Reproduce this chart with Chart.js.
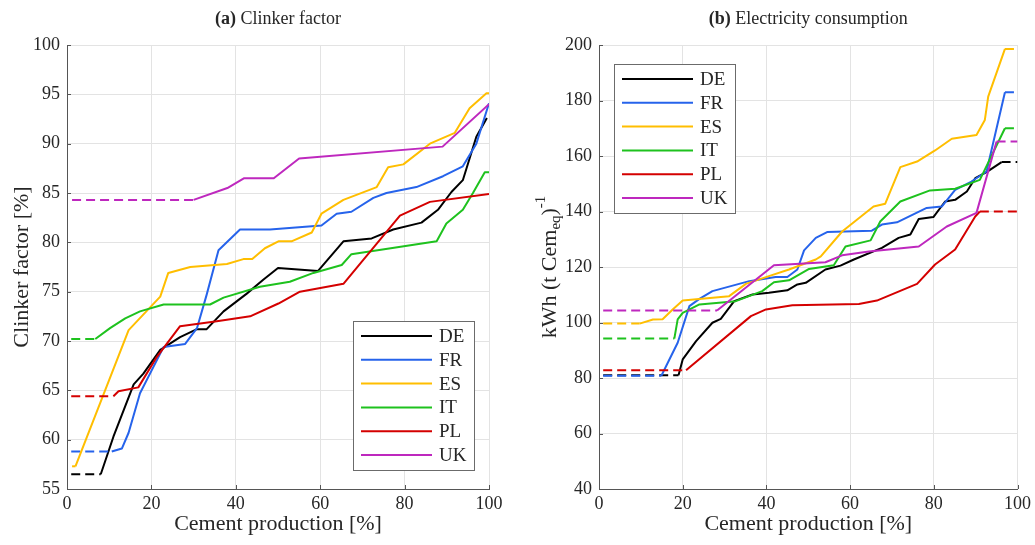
<!DOCTYPE html>
<html lang="en">
<head>
  <meta charset="UTF-8" />
  <title>Clinker factor and electricity consumption</title>
  <script src="https://cdn.jsdelivr.net/npm/chart.js"></script>
  <style>
    body { margin: 0; background: #fff; }
    .wrap { position: relative; width: 1035px; height: 545px; }
    .panel { position: absolute; top: 0; height: 545px; }
    #left { left: 0; width: 517px; }
    #right { left: 517px; width: 518px; }
  </style>
</head>
<body>
  <div class="wrap">
    <div class="panel" id="left"><canvas id="clinkerChart"></canvas></div>
    <div class="panel" id="right"><canvas id="elecChart"></canvas></div>
  </div>

  <script>
    const countries = ["DE", "FR", "ES", "IT", "PL", "UK"];
    const colors = ["#000000", "#2663eb", "#ffbe00", "#1ec21e", "#d40000", "#be28be"];

    // (a) clinker factor [%] against cumulative cement production [%]
    const clinkerDE = [[1,56.5],[8,56.5],[11,60.3],[15.8,65.6],[18.1,66.7],[22.1,69.1],[26.8,70.4],[30.8,71.2],[33.1,71.2],[37.1,73],[42.6,74.8],[46.5,76.2],[50,77.4],[59.5,77.1],[65.5,80.1],[72.2,80.4],[77.3,81.3],[84,82],[87.9,83.3],[91.1,85.1],[93.8,86.3],[97,90.7],[99.5,92.6]];
    const clinkerFR = [[1,58.8],[10.6,58.8],[13,59.1],[14.6,60.7],[17.3,64.7],[22.9,69.4],[28,69.7],[30.8,71.3],[33.1,74.7],[35.9,79.2],[41,81.3],[48.1,81.3],[60.3,81.7],[63.9,82.9],[67.4,83.1],[72.6,84.5],[75.7,85],[82.8,85.6],[89.1,86.7],[93.8,87.7],[97,90],[100,94.1]];
    const clinkerES = [[1.2,57.3],[2,57.3],[14.6,71.1],[22.1,74.5],[24,76.9],[29.2,77.5],[37.9,77.8],[41.8,78.3],[43.9,78.3],[46.9,79.4],[50.1,80.1],[53.2,80.1],[58,81],[60.3,82.9],[65.5,84.3],[73.4,85.6],[76.1,87.6],[79.7,87.9],[86,90],[91.9,91.1],[95.4,93.6],[99.4,95.1],[100,95.1]];
    const clinkerIT = [[1,70.2],[6.7,70.2],[10.2,71.3],[13.8,72.3],[17.3,73],[22.9,73.7],[33.9,73.7],[37.1,74.4],[45.7,75.5],[52.8,76],[58.4,76.9],[65.1,77.7],[67.4,78.8],[87.6,80.1],[89.9,81.9],[93.8,83.3],[96.2,85],[99,87.1],[100,87.1]];
    const clinkerPL = [[1,64.4],[11,64.4],[12.2,64.9],[16.9,65.3],[21.3,68.4],[26.8,71.5],[35.5,72],[43.4,72.5],[50.1,73.8],[55.2,75],[65.5,75.8],[78.9,82.7],[86,84.1],[100,84.9]];
    const clinkerUK = [[1.2,84.3],[30,84.3],[38,85.5],[42,86.5],[49,86.5],[55,88.5],[89,89.7],[100,94]];
    // which ends of each curve are drawn dashed (flat extrapolation)
    const clinkerDash = ["start", "start", "start", "start", "start", "start"];

    // (b) electricity consumption [kWh per t cement eq]
    const elecDE = [[1,81],[19,81],[20,86.7],[23.2,93.3],[27.1,99.9],[29.1,101.3],[32.3,107.7],[36.7,110.1],[40.6,110.7],[45,111.6],[47.4,113.7],[49.4,114.3],[54.1,119.1],[57.7,120.5],[60.9,122.7],[67.6,126.9],[71.6,130.5],[74.4,131.7],[76.4,137.3],[79.9,138],[82.7,143.6],[85.1,144.2],[87.9,147.2],[89.9,152],[92.6,154.2],[96.2,157.8],[100,157.8]];
    const elecFR = [[1,80.8],[14.9,80.8],[18.8,92.7],[21.6,105.9],[24,108.5],[27.1,111.3],[35.9,114.9],[42.2,116.4],[45,116.4],[47.4,119.1],[49,126],[51.8,130.5],[54.5,132.6],[65.2,133.1],[67.6,135.3],[71.2,136.1],[78.3,141.3],[81.9,141.8],[85.1,147.8],[89,150.8],[92.6,154.4],[97,183],[100,183]];
    const elecES = [[1,99.6],[9.7,99.6],[12.9,101.1],[15.2,101.2],[17.6,104.7],[20,107.9],[31.1,109.5],[35.1,113.9],[40.6,116.7],[45.4,119.1],[51.8,122.7],[53,123.8],[58.1,132.8],[65.6,141.8],[68.4,142.8],[72,156],[76,158],[80.3,162],[84.3,166.2],[90.2,167.6],[92.2,173],[93,181.4],[97,198.6],[100,198.6]];
    const elecIT = [[1,94.2],[18,94.2],[18.8,101.1],[20,103.5],[24,106.5],[32.7,107.7],[39,111.3],[41.8,114.5],[45.4,115.2],[50.2,119.3],[56.1,120.6],[58.9,127.4],[64.9,129.6],[67.2,136.4],[72,143.6],[79.1,147.6],[85.1,148.2],[91,151.4],[97,170],[100,170]];
    const elecPL = [[1,82.8],[20.8,82.8],[36.3,102.3],[39.9,104.7],[46.2,106.2],[62.1,106.7],[66.4,107.9],[76,113.9],[80.3,120.9],[85.1,126.3],[89.9,138.2],[91,140],[100,140]];
    const elecUK = [[1,104.3],[28.2,104.3],[41.8,120.6],[54.1,121.7],[58.1,124.2],[64.5,125.6],[76.4,127.4],[83.1,134.6],[90.2,139.5],[95,165.2],[100,165.2]];
    const elecDash = ["both", "both", "both", "both", "both", "both"];

    const serif = "'Liberation Serif', 'Times New Roman', serif";
    const textColor = "#262626";
    const axisColor = "#555";

    // titles, y-axis label, inward ticks and the boxed legend
    const decor = {
      id: "decor",
      afterDraw(chart, args, opts) {
        const ctx = chart.ctx;
        const a = chart.chartArea;
        ctx.save();

        // MATLAB style ticks pointing into the plot
        ctx.strokeStyle = axisColor;
        ctx.lineWidth = 1;
        const xs = chart.scales.x, ys = chart.scales.y;
        xs.ticks.forEach((t, i) => {
          const px = Math.round(xs.getPixelForTick(i)) + 0.5;
          ctx.beginPath(); ctx.moveTo(px, a.bottom); ctx.lineTo(px, a.bottom - 4); ctx.stroke();
        });
        ys.ticks.forEach((t, i) => {
          const py = Math.round(ys.getPixelForTick(i)) + 0.5;
          ctx.beginPath(); ctx.moveTo(a.left, py); ctx.lineTo(a.left + 4, py); ctx.stroke();
        });

        // panel title: bold letter + plain text
        ctx.fillStyle = textColor;
        ctx.textBaseline = "middle";
        const boldFont = "bold 18px " + serif, plainFont = "18px " + serif;
        ctx.font = boldFont;
        const w1 = ctx.measureText(opts.title[0]).width;
        ctx.font = plainFont;
        const w2 = ctx.measureText(opts.title[1]).width;
        let tx = (a.left + a.right) / 2 - (w1 + w2) / 2;
        ctx.textAlign = "left";
        ctx.font = boldFont; ctx.fillText(opts.title[0], tx, 19);
        ctx.font = plainFont; ctx.fillText(opts.title[1], tx + w1, 19);

        // y-axis label, rotated; pieces may be sub- or superscript
        ctx.save();
        ctx.translate(opts.yTitleX, (a.top + a.bottom) / 2);
        ctx.rotate(-Math.PI / 2);
        const parts = opts.yTitle.map(p => {
          const f = (p.size || 22) + "px " + serif;
          ctx.font = f;
          return { ...p, f, w: ctx.measureText(p.text).width };
        });
        let total = parts.reduce((s, p) => s + p.w, 0);
        let px = -total / 2;
        parts.forEach(p => {
          ctx.font = p.f;
          ctx.fillText(p.text, px, p.dy || 0);
          px += p.w;
        });
        ctx.restore();

        // legend box
        const lg = opts.legend;
        ctx.fillStyle = "#fff";
        ctx.fillRect(lg.x, lg.y, 121, 149);
        ctx.strokeStyle = "#6b6b6b";
        ctx.strokeRect(lg.x + 0.5, lg.y + 0.5, 121, 149);
        ctx.font = "19px " + serif;
        ctx.textAlign = "left";
        countries.forEach((c, i) => {
          const ry = lg.y + 15 + i * 23.8;
          ctx.strokeStyle = colors[i];
          ctx.lineWidth = 2;
          ctx.beginPath(); ctx.moveTo(lg.x + 8, ry); ctx.lineTo(lg.x + 79, ry); ctx.stroke();
          ctx.fillStyle = textColor;
          ctx.fillText(c, lg.x + 86, ry + 1);
        });
        ctx.restore();
      }
    };

    function makeDatasets(series, dash) {
      return series.map((pts, i) => ({
        label: countries[i],
        data: pts,
        borderColor: colors[i],
        borderWidth: 2,
        pointRadius: 0,
        tension: 0,
        borderJoinStyle: "round",
        order: series.length - i,
        segment: {
          borderDash: ctx => {
            const last = pts.length - 2;
            if ((dash[i] === "start" || dash[i] === "both") && ctx.p0DataIndex === 0) return [9, 5];
            if (dash[i] === "both" && ctx.p0DataIndex === last) return [9, 5];
            return undefined;
          }
        }
      }));
    }

    function makeChart(id, series, dash, yMin, yMax, yStep, pad, yWidth, deco) {
      return new Chart(document.getElementById(id), {
        type: "line",
        data: { datasets: makeDatasets(series, dash) },
        options: {
          responsive: true,
          maintainAspectRatio: false,
          animation: false,
          layout: { padding: pad },
          plugins: { legend: { display: false }, tooltip: { enabled: false }, decor: deco },
          scales: {
            x: {
              type: "linear", min: 0, max: 100,
              ticks: { stepSize: 20, padding: 4, color: textColor, font: { family: serif, size: 18 }, maxRotation: 0 },
              grid: { color: "#e3e3e3", drawTicks: false },
              border: { color: axisColor },
              title: { display: true, text: "Cement production [%]", color: textColor, font: { family: serif, size: 22 }, padding: { top: 0, bottom: 8 } },
              afterFit: s => { s.height = 56; }
            },
            y: {
              min: yMin, max: yMax,
              ticks: { stepSize: yStep, padding: 7, color: textColor, font: { family: serif, size: 18 } },
              grid: { color: "#e3e3e3", drawTicks: false },
              border: { color: axisColor },
              afterFit: s => { s.width = yWidth; }
            }
          }
        },
        plugins: [decor]
      });
    }

    makeChart("clinkerChart",
      [clinkerDE, clinkerFR, clinkerES, clinkerIT, clinkerPL, clinkerUK], clinkerDash,
      55, 100, 5, { top: 45, right: 28, bottom: 0, left: 0 }, 67,
      {
        title: ["(a)", " Clinker factor"],
        yTitle: [{ text: "Clinker factor [%]" }],
        yTitleX: 22,
        legend: { x: 353, y: 321 }
      });

    makeChart("elecChart",
      [elecDE, elecFR, elecES, elecIT, elecPL, elecUK], elecDash,
      40, 200, 20, { top: 45, right: 16, bottom: 0, left: 0 }, 82,
      {
        title: ["(b)", " Electricity consumption"],
        yTitle: [
          { text: "kWh (t Cem" },
          { text: "eq", size: 15, dy: 6 },
          { text: ")" },
          { text: "-1", size: 15, dy: -9 }
        ],
        yTitleX: 33,
        legend: { x: 97, y: 64 }
      });
  </script>
</body>
</html>
